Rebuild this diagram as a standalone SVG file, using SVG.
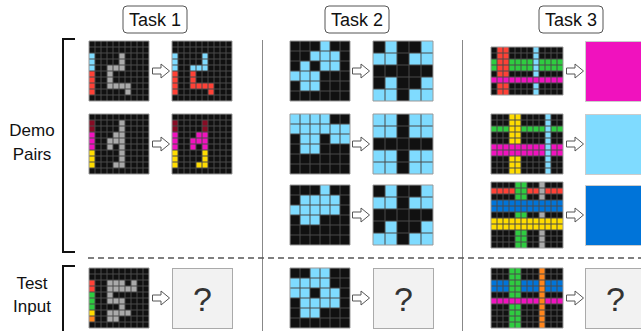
<svg xmlns="http://www.w3.org/2000/svg" xmlns:xlink="http://www.w3.org/1999/xlink" width="641" height="331" viewBox="0 0 641 331">
<style>
.k{fill:#111}.b{fill:#7fdbff}.r{fill:#ff4136}.g{fill:#2ecc40}.y{fill:#ffdc00}.m{fill:#f012be}.a{fill:#aaa}.o{fill:#ff851b}.w{fill:#870c25}.u{fill:#0074d9}
.gl{fill:none;stroke:#4a4a4a;stroke-width:1}
.bd{fill:none;stroke:#999;stroke-width:1}
.lbl{font-family:"Liberation Sans",Arial,sans-serif;font-size:17px;fill:#111;text-anchor:middle}
.ttl{font-family:"Liberation Sans",Arial,sans-serif;font-size:18px;fill:#111;text-anchor:middle}
.tb{fill:#fff;stroke:#555;stroke-width:1}
.q{fill:#f2f2f2;stroke:#aaa;stroke-width:1}
.qt{font-family:"Liberation Sans",Arial,sans-serif;font-size:34px;fill:#333;text-anchor:middle}
.arr{fill:#fff;stroke:#555;stroke-width:1}
.sep{stroke:#888;stroke-width:1}
.br{fill:none;stroke:#111;stroke-width:2}
</style>
<defs>
<path id="L10" class="gl" vector-effect="non-scaling-stroke" d="M1 0V10M2 0V10M3 0V10M4 0V10M5 0V10M6 0V10M7 0V10M8 0V10M9 0V10M0 1H10M0 2H10M0 3H10M0 4H10M0 5H10M0 6H10M0 7H10M0 8H10M0 9H10"/>
<path id="L6" class="gl" vector-effect="non-scaling-stroke" d="M1 0V6M2 0V6M3 0V6M4 0V6M5 0V6M0 1H6M0 2H6M0 3H6M0 4H6M0 5H6"/>
<path id="L5" class="gl" vector-effect="non-scaling-stroke" d="M1 0V5M2 0V5M3 0V5M4 0V5M0 1H5M0 2H5M0 3H5M0 4H5"/>
<path id="L128" class="gl" vector-effect="non-scaling-stroke" d="M1 0V8M2 0V8M3 0V8M4 0V8M5 0V8M6 0V8M7 0V8M8 0V8M9 0V8M10 0V8M11 0V8M0 1H12M0 2H12M0 3H12M0 4H12M0 5H12M0 6H12M0 7H12"/>
<path id="L1210" class="gl" vector-effect="non-scaling-stroke" d="M1 0V10M2 0V10M3 0V10M4 0V10M5 0V10M6 0V10M7 0V10M8 0V10M9 0V10M10 0V10M11 0V10M0 1H12M0 2H12M0 3H12M0 4H12M0 5H12M0 6H12M0 7H12M0 8H12M0 9H12"/>
<path id="L1211" class="gl" vector-effect="non-scaling-stroke" d="M1 0V11M2 0V11M3 0V11M4 0V11M5 0V11M6 0V11M7 0V11M8 0V11M9 0V11M10 0V11M11 0V11M0 1H12M0 2H12M0 3H12M0 4H12M0 5H12M0 6H12M0 7H12M0 8H12M0 9H12M0 10H12"/>
<path id="arrow" class="arr" d="M0.5 -3H9V-7L17.5 0L9 7V3H0.5Z"/>
</defs>

<g id="labels">
<g id="task1-title"><rect class="tb" x="123" y="6" width="64" height="27" rx="4"/><text class="ttl" x="155" y="26">Task 1</text></g>
<g id="task2-title"><rect class="tb" x="325" y="6" width="64" height="27" rx="4"/><text class="ttl" x="357" y="26">Task 2</text></g>
<g id="task3-title"><rect class="tb" x="539" y="6" width="64" height="27" rx="4"/><text class="ttl" x="571" y="26">Task 3</text></g>
<g id="demo-label"><text class="lbl" x="32" y="136">Demo</text><text class="lbl" x="32" y="160">Pairs</text></g>
<g id="test-label"><text class="lbl" x="32" y="289">Test</text><text class="lbl" x="32" y="312">Input</text></g>
</g>

<g id="connectors">
<path class="br" d="M75 39H63V252H75"/>
<path class="br" d="M75 266H63V331"/>
<line class="sep" x1="262.5" y1="40" x2="262.5" y2="331"/>
<line class="sep" x1="462.5" y1="40" x2="462.5" y2="331"/>
<line x1="88" y1="258" x2="641" y2="258" stroke="#555" stroke-width="1.5" stroke-dasharray="6 4"/>
<use xlink:href="#arrow" x="152" y="71"/>
<use xlink:href="#arrow" x="152" y="144"/>
<use xlink:href="#arrow" x="152" y="298"/>
<use xlink:href="#arrow" x="352" y="71"/>
<use xlink:href="#arrow" x="352" y="144"/>
<use xlink:href="#arrow" x="352" y="215"/>
<use xlink:href="#arrow" x="352" y="298"/>
<use xlink:href="#arrow" x="566" y="71"/>
<use xlink:href="#arrow" x="566" y="144"/>
<use xlink:href="#arrow" x="566" y="215"/>
<use xlink:href="#arrow" x="566" y="298"/>
</g>

<!-- Task 1 -->
<g id="t1-p1-in" transform="translate(89,41) scale(6)">
<rect class="k" width="10" height="10"/>
<rect class="b" x="0" y="2" width="1" height="3"/><rect class="r" x="0" y="5" width="1" height="4"/>
<rect class="a" x="5" y="2" width="1" height="2"/><rect class="a" x="3" y="4" width="3" height="1"/><rect class="a" x="3" y="5" width="1" height="3"/><rect class="a" x="4" y="7" width="3" height="1"/><rect class="a" x="6" y="8" width="1" height="1"/>
<use xlink:href="#L10"/><rect class="bd" vector-effect="non-scaling-stroke" width="10" height="10"/>
</g>
<g id="t1-p1-out" transform="translate(172,41) scale(6)">
<rect class="k" width="10" height="10"/>
<rect class="b" x="0" y="2" width="1" height="3"/><rect class="r" x="0" y="5" width="1" height="4"/>
<rect class="b" x="5" y="2" width="1" height="2"/><rect class="b" x="3" y="4" width="3" height="1"/><rect class="r" x="3" y="5" width="1" height="3"/><rect class="r" x="4" y="7" width="3" height="1"/><rect class="r" x="6" y="8" width="1" height="1"/>
<use xlink:href="#L10"/><rect class="bd" vector-effect="non-scaling-stroke" width="10" height="10"/>
</g>
<g id="t1-p2-in" transform="translate(89,114) scale(6)">
<rect class="k" width="10" height="10"/>
<rect class="w" x="0" y="1" width="1" height="2"/><rect class="m" x="0" y="3" width="1" height="3"/><rect class="y" x="0" y="6" width="1" height="3"/>
<rect class="a" x="5" y="1" width="1" height="8"/><rect class="a" x="4" y="3" width="1" height="1"/><rect class="a" x="3" y="4" width="2" height="1"/><rect class="a" x="3" y="5" width="1" height="1"/><rect class="a" x="4" y="8" width="1" height="1"/>
<use xlink:href="#L10"/><rect class="bd" vector-effect="non-scaling-stroke" width="10" height="10"/>
</g>
<g id="t1-p2-out" transform="translate(172,114) scale(6)">
<rect class="k" width="10" height="10"/>
<rect class="w" x="0" y="1" width="1" height="2"/><rect class="m" x="0" y="3" width="1" height="3"/><rect class="y" x="0" y="6" width="1" height="3"/>
<rect class="w" x="5" y="1" width="1" height="2"/><rect class="m" x="5" y="3" width="1" height="3"/><rect class="m" x="4" y="3" width="1" height="1"/><rect class="m" x="3" y="4" width="2" height="1"/><rect class="m" x="3" y="5" width="1" height="1"/><rect class="y" x="5" y="6" width="1" height="3"/><rect class="y" x="4" y="8" width="1" height="1"/>
<use xlink:href="#L10"/><rect class="bd" vector-effect="non-scaling-stroke" width="10" height="10"/>
</g>
<g id="t1-test-in" transform="translate(89,268) scale(6)">
<rect class="k" width="10" height="10"/>
<rect class="r" x="0" y="2" width="1" height="2"/><rect class="g" x="0" y="4" width="1" height="3"/><rect class="y" x="0" y="7" width="1" height="1"/><rect class="o" x="0" y="8" width="1" height="1"/>
<rect class="a" x="3" y="2" width="3" height="1"/><rect class="a" x="7" y="2" width="1" height="1"/><rect class="a" x="3" y="3" width="5" height="1"/><rect class="a" x="3" y="4" width="1" height="1"/><rect class="a" x="3" y="5" width="3" height="1"/><rect class="a" x="5" y="6" width="1" height="1"/><rect class="a" x="3" y="7" width="4" height="1"/><rect class="a" x="3" y="8" width="2" height="1"/>
<use xlink:href="#L10"/><rect class="bd" vector-effect="non-scaling-stroke" width="10" height="10"/>
</g>
<g id="t1-test-out"><rect class="q" x="172.5" y="268.5" width="60" height="60"/><text class="qt" x="202.5" y="311">?</text></g>

<!-- Task 2 -->
<g id="t2-p1-in" transform="translate(290,41) scale(10)">
<rect class="k" width="6" height="6"/>
<rect class="b" x="3" y="0" width="1" height="1"/><rect class="b" x="2" y="1" width="3" height="1"/><rect class="b" x="1" y="2" width="1" height="1"/><rect class="b" x="3" y="2" width="2" height="1"/><rect class="b" x="0" y="3" width="3" height="1"/><rect class="b" x="1" y="4" width="2" height="1"/>
<use xlink:href="#L6"/><rect class="bd" vector-effect="non-scaling-stroke" width="6" height="6"/>
</g>
<g id="t2-p1-out" transform="translate(373,41) scale(12)">
<rect class="k" width="5" height="5"/>
<rect class="b" x="1" y="0" width="1" height="1"/><rect class="b" x="4" y="0" width="1" height="1"/><rect class="b" x="0" y="1" width="2" height="1"/><rect class="b" x="3" y="1" width="2" height="1"/><rect class="b" x="1" y="3" width="1" height="1"/><rect class="b" x="4" y="3" width="1" height="1"/><rect class="b" x="0" y="4" width="2" height="1"/><rect class="b" x="3" y="4" width="2" height="1"/>
<use xlink:href="#L5"/><rect class="bd" vector-effect="non-scaling-stroke" width="5" height="5"/>
</g>
<g id="t2-p2-in" transform="translate(290,114) scale(10)">
<rect class="k" width="6" height="6"/>
<rect class="b" x="0" y="0" width="4" height="1"/><rect class="b" x="0" y="1" width="6" height="1"/><rect class="b" x="1" y="2" width="2" height="2"/><rect class="b" x="4" y="2" width="2" height="1"/>
<use xlink:href="#L6"/><rect class="bd" vector-effect="non-scaling-stroke" width="6" height="6"/>
</g>
<g id="t2-p2-out" transform="translate(373,114) scale(12)">
<rect class="k" width="5" height="5"/>
<rect class="b" x="0" y="0" width="2" height="2"/><rect class="b" x="3" y="0" width="2" height="2"/><rect class="b" x="0" y="3" width="2" height="2"/><rect class="b" x="3" y="3" width="2" height="2"/>
<use xlink:href="#L5"/><rect class="bd" vector-effect="non-scaling-stroke" width="5" height="5"/>
</g>
<g id="t2-p3-in" transform="translate(290,185) scale(10)">
<rect class="k" width="6" height="6"/>
<rect class="b" x="3" y="0" width="1" height="1"/><rect class="b" x="1" y="1" width="4" height="1"/><rect class="b" x="0" y="2" width="5" height="1"/><rect class="b" x="1" y="3" width="2" height="1"/>
<use xlink:href="#L6"/><rect class="bd" vector-effect="non-scaling-stroke" width="6" height="6"/>
</g>
<g id="t2-p3-out" transform="translate(373,185) scale(12)">
<rect class="k" width="5" height="5"/>
<rect class="b" x="1" y="0" width="1" height="1"/><rect class="b" x="4" y="0" width="1" height="1"/><rect class="b" x="0" y="1" width="2" height="1"/><rect class="b" x="3" y="1" width="2" height="1"/><rect class="b" x="1" y="3" width="1" height="1"/><rect class="b" x="4" y="3" width="1" height="1"/><rect class="b" x="0" y="4" width="2" height="1"/><rect class="b" x="3" y="4" width="2" height="1"/>
<use xlink:href="#L5"/><rect class="bd" vector-effect="non-scaling-stroke" width="5" height="5"/>
</g>
<g id="t2-test-in" transform="translate(290,268) scale(10)">
<rect class="k" width="6" height="6"/>
<rect class="b" x="2" y="0" width="2" height="1"/><rect class="b" x="0" y="1" width="4" height="1"/><rect class="b" x="0" y="2" width="2" height="1"/><rect class="b" x="3" y="2" width="2" height="1"/><rect class="b" x="1" y="3" width="4" height="1"/><rect class="b" x="1" y="4" width="2" height="1"/>
<use xlink:href="#L6"/><rect class="bd" vector-effect="non-scaling-stroke" width="6" height="6"/>
</g>
<g id="t2-test-out"><rect class="q" x="373.5" y="268.5" width="60" height="60"/><text class="qt" x="403.5" y="311">?</text></g>

<!-- Task 3 -->
<g id="t3-p1-in" transform="translate(491,47) scale(6)">
<rect class="k" width="12" height="8"/>
<rect class="g" x="0" y="2" width="12" height="2"/><rect class="r" x="1" y="0" width="2" height="8"/><rect class="b" x="7" y="0" width="1" height="8"/><rect class="m" x="0" y="5" width="12" height="1"/>
<use xlink:href="#L128"/><rect class="bd" vector-effect="non-scaling-stroke" width="12" height="8"/>
</g>
<g id="t3-p1-out"><rect class="m" x="585.5" y="41.5" width="60" height="60" stroke="#ccc"/></g>
<g id="t3-p2-in" transform="translate(491,114) scale(6)">
<rect class="k" width="12" height="10"/>
<rect class="g" x="0" y="2" width="12" height="1"/><rect class="y" x="3" y="0" width="2" height="10"/><rect class="m" x="0" y="5" width="12" height="2"/><rect class="b" x="9" y="0" width="1" height="10"/>
<use xlink:href="#L1210"/><rect class="bd" vector-effect="non-scaling-stroke" width="12" height="10"/>
</g>
<g id="t3-p2-out"><rect class="b" x="585.5" y="114.5" width="60" height="60" stroke="#ccc"/></g>
<g id="t3-p3-in" transform="translate(491,182) scale(6)">
<rect class="k" width="12" height="11"/>
<rect class="r" x="0" y="1" width="12" height="1"/><rect class="g" x="4" y="0" width="2" height="11"/><rect class="a" x="8" y="0" width="1" height="11"/><rect class="y" x="0" y="6" width="12" height="2"/><rect class="u" x="0" y="3" width="12" height="2"/>
<use xlink:href="#L1211"/><rect class="bd" vector-effect="non-scaling-stroke" width="12" height="11"/>
</g>
<g id="t3-p3-out"><rect class="u" x="585.5" y="185.5" width="60" height="60" stroke="#ccc"/></g>
<g id="t3-test-in" transform="translate(491,268) scale(6)">
<rect class="k" width="12" height="10"/>
<rect class="u" x="0" y="2" width="12" height="2"/><rect class="g" x="3" y="0" width="2" height="10"/><rect class="m" x="0" y="5" width="12" height="1"/><rect class="o" x="8" y="0" width="1" height="10"/>
<use xlink:href="#L1210"/><rect class="bd" vector-effect="non-scaling-stroke" width="12" height="10"/>
</g>
<g id="t3-test-out"><rect class="q" x="585.5" y="268.5" width="60" height="60"/><text class="qt" x="615.5" y="311">?</text></g>
</svg>
